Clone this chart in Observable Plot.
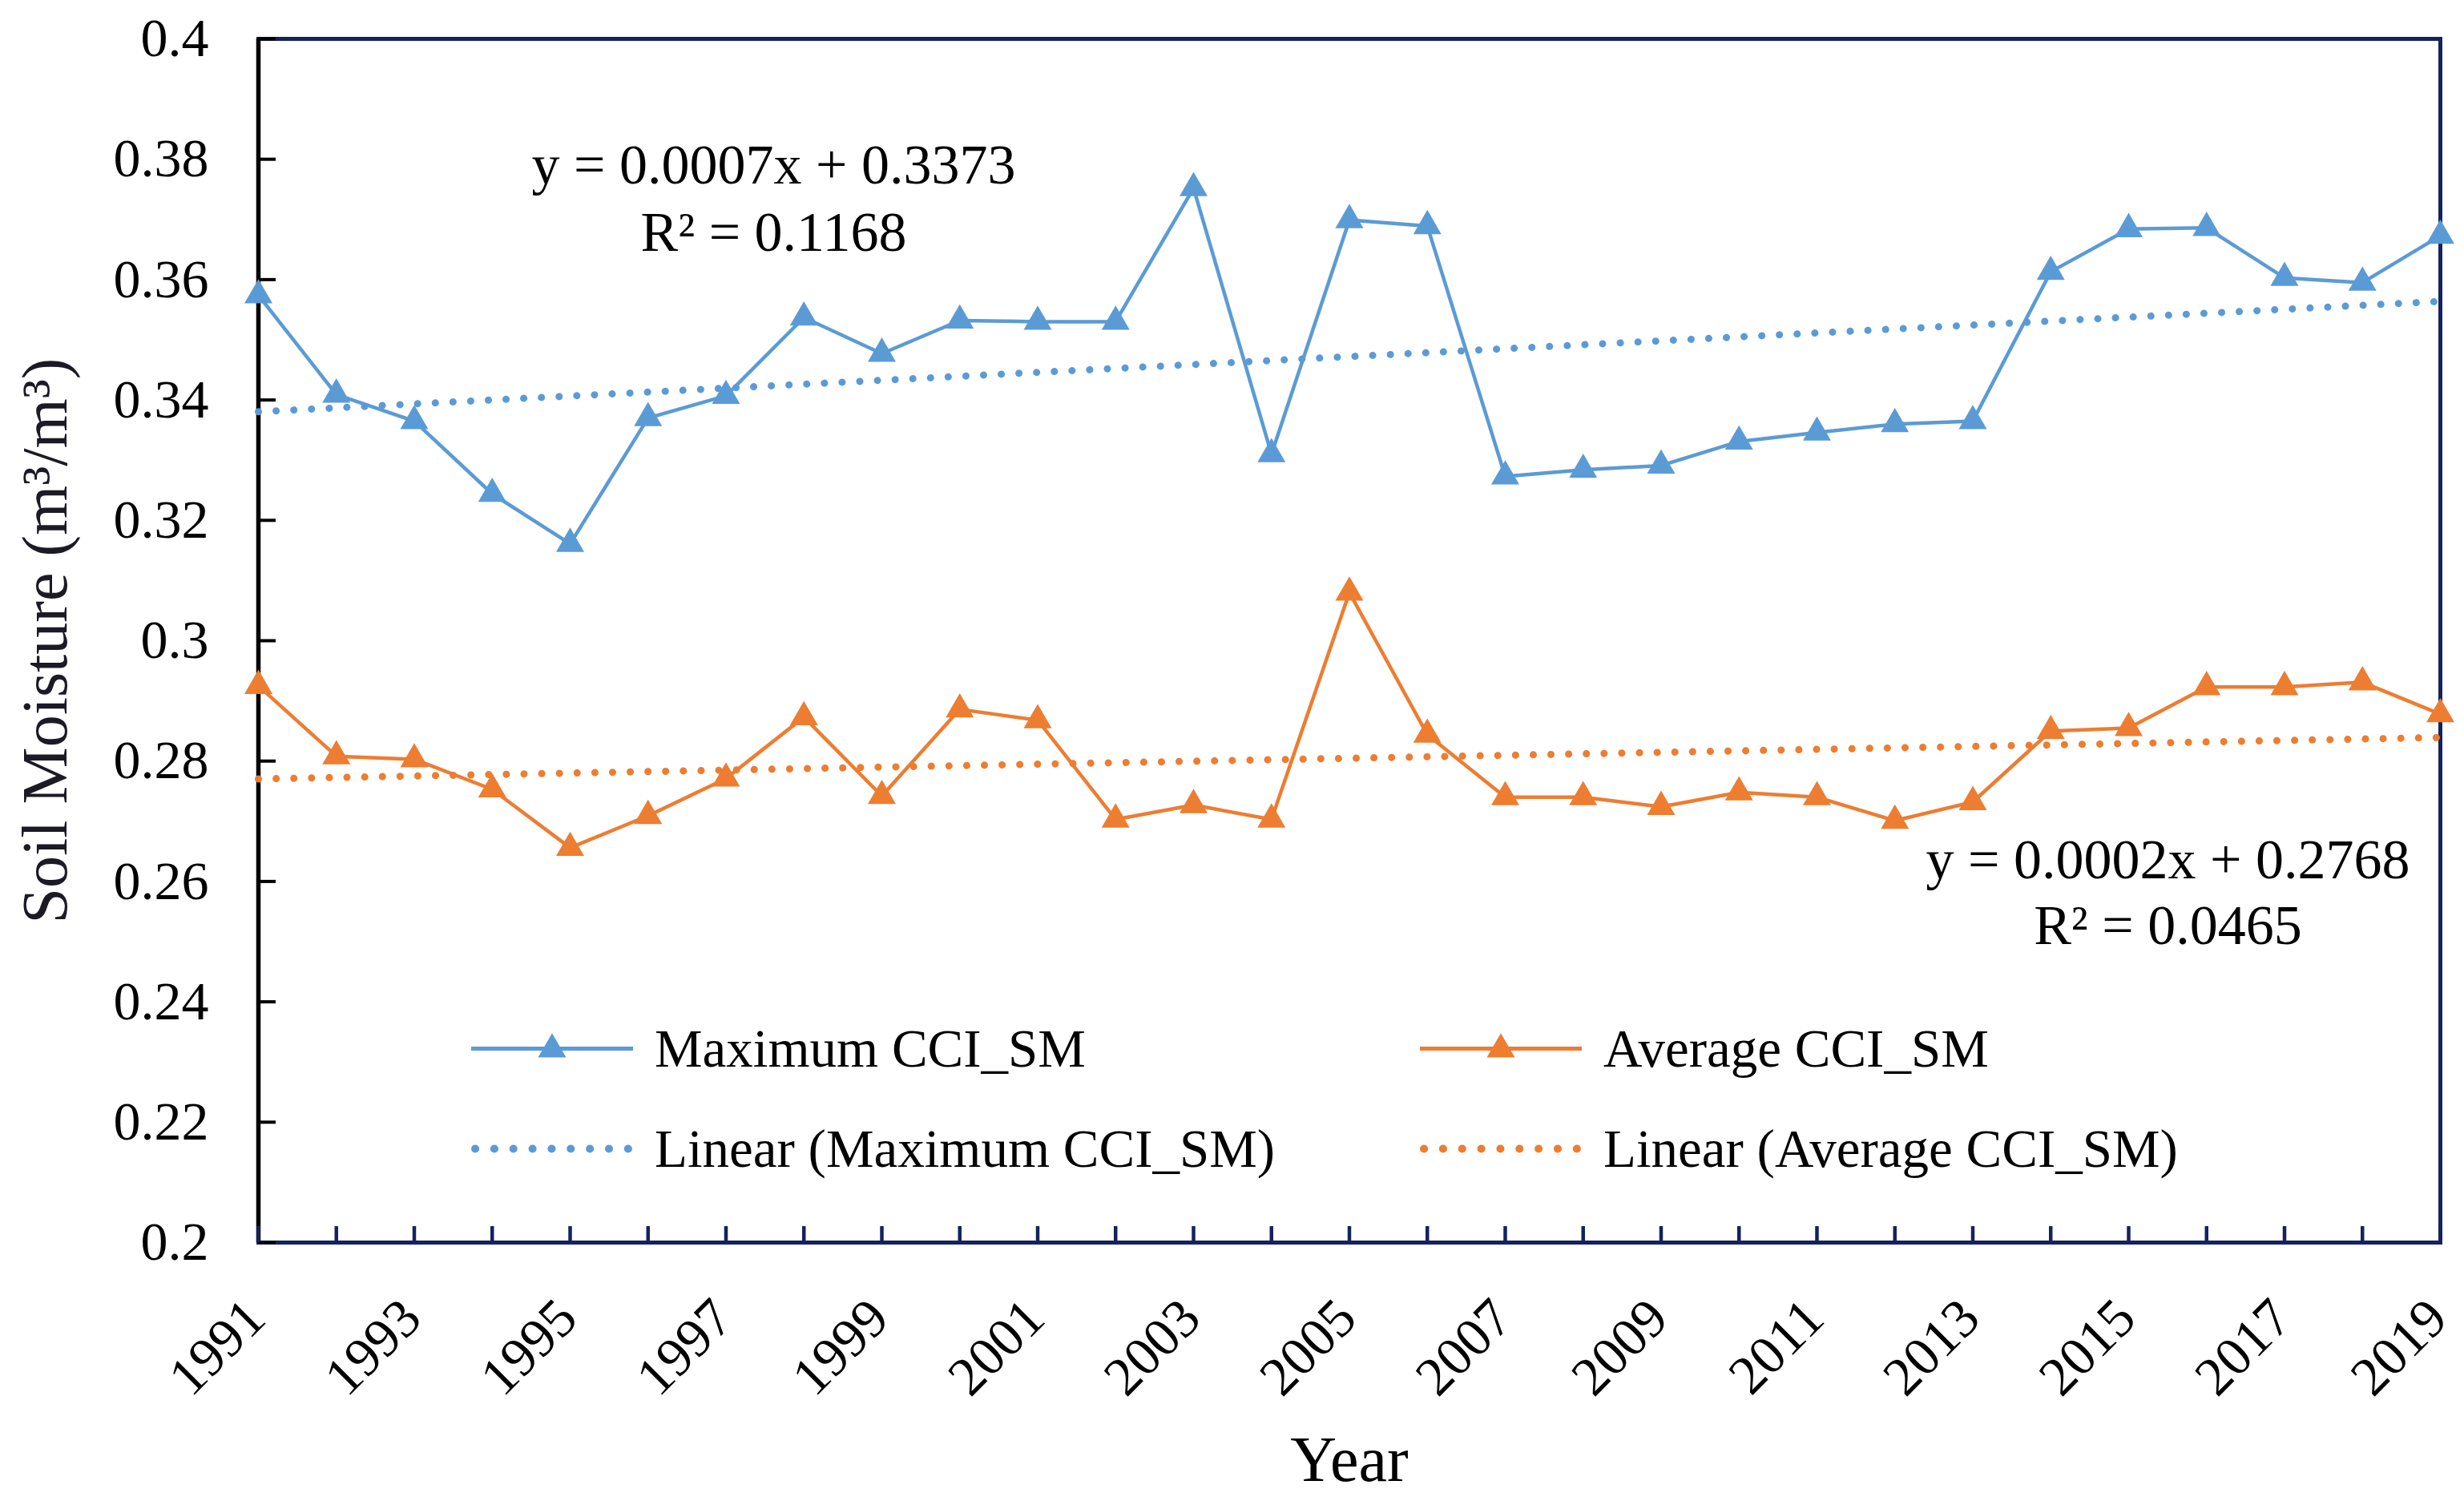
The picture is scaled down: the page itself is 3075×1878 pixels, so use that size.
<!DOCTYPE html>
<html>
<head>
<meta charset="utf-8">
<script src="https://cdn.jsdelivr.net/npm/d3@7"></script>
<script src="https://cdn.jsdelivr.net/npm/@observablehq/plot@0.6"></script>
<style>
  html, body { margin: 0; padding: 0; background: #fff; }
  #chart { position: relative; width: 3075px; height: 1878px; font-family: "Liberation Serif", "Times New Roman", serif; }
  .leg { position: absolute; display: flex; align-items: center; height: 67px; font-size: 67px; line-height: 67px; color: #000; white-space: nowrap; }
  .leg svg { display: block; flex: none; }
</style>
</head>
<body>
<div id="chart"></div>
<script>
// ---------------- data ----------------
const years = [1991, 1992, 1993, 1994, 1995, 1996, 1997, 1998, 1999, 2000,
               2001, 2002, 2003, 2004, 2005, 2006, 2007, 2008, 2009, 2010,
               2011, 2012, 2013, 2014, 2015, 2016, 2017, 2018, 2019];
const maximumSM = [0.3574, 0.3409, 0.3365, 0.3244, 0.3161, 0.3370, 0.3407, 0.3537, 0.3477, 0.3532,
                   0.3530, 0.3530, 0.3752, 0.3310, 0.3699, 0.3689, 0.3273, 0.3284, 0.3291, 0.3331,
                   0.3346, 0.3360, 0.3365, 0.3613, 0.3684, 0.3686, 0.3603, 0.3595, 0.3673];
const averageSM = [0.2925, 0.2808, 0.2803, 0.2753, 0.2656, 0.2709, 0.2771, 0.2873, 0.2742, 0.2886,
                   0.2868, 0.2703, 0.2727, 0.2703, 0.3080, 0.2844, 0.2740, 0.2740, 0.2724, 0.2748,
                   0.2740, 0.2701, 0.2732, 0.2850, 0.2855, 0.2923, 0.2923, 0.2931, 0.2878];
const yTicks = [0.2, 0.22, 0.24, 0.26, 0.28, 0.3, 0.32, 0.34, 0.36, 0.38, 0.4];
const xTickLabels = [1991, 1993, 1995, 1997, 1999, 2001, 2003, 2005, 2007, 2009, 2011, 2013, 2015, 2017, 2019];
const seriesNames = ["Maximum CCI_SM", "Average CCI_SM", "Linear (Maximum CCI_SM)", "Linear (Average CCI_SM)"];
const eqMax = ["y = 0.0007x + 0.3373", "R\u00B2 = 0.1168"];
const eqAvg = ["y = 0.0002x + 0.2768", "R\u00B2 = 0.0465"];
const xTitle = "Year";
const yTitle = "Soil Moisture (m\u00B3/m\u00B3)";

// ---------------- styling ----------------
const BLUE = "#5B9BD5", ORANGE = "#ED7D31", NAVY = "#15225e";
const W = 3075, H = 1878, mL = 322, mR = 30, mT = 48, mB = 328;
const plotW = W - mL - mR, plotH = H - mT - mB;
const FONT = '"Liberation Serif", "Times New Roman", serif';

const rows = years.map((yr, i) => ({year: yr, max: maximumSM[i], avg: averageSM[i]}));

const dotted = {ci: 0, strokeWidth: 9, strokeDasharray: "0.1 22", strokeLinecap: "round"};

const chart = Plot.plot({
  width: W, height: H,
  marginLeft: mL, marginRight: mR, marginTop: mT, marginBottom: mB,
  style: {fontFamily: FONT, background: "#fff", color: "#000"},
  x: {domain: [years[0], years[years.length - 1]], label: null},
  y: {domain: [yTicks[0], yTicks[yTicks.length - 1]], label: null},
  marks: [
    Plot.frame({stroke: NAVY, strokeWidth: 5}),
    Plot.ruleX([years[0]], {x: d => d, stroke: "#000", strokeWidth: 5.5}),
    Plot.ruleY(yTicks, {y: d => d, stroke: "#000", strokeWidth: 4, insetRight: plotW - 22}),
    Plot.ruleX(years, {x: d => d, stroke: NAVY, strokeWidth: 4.5, insetTop: plotH - 20}),
    Plot.axisY({ticks: yTicks, tickSize: 0, tickPadding: 62, fontSize: 68, tickFormat: d => d3.format(".2~f")(d), label: null}),
    Plot.axisX({ticks: xTickLabels, tickSize: 0, tickRotate: -45, tickPadding: 64, dx: -22, fontSize: 68,
                tickFormat: d => String(d), label: null, textAnchor: "end", lineAnchor: "top"}),
    Plot.line(rows, {x: "year", y: "max", stroke: BLUE, strokeWidth: 4.5}),
    Plot.line(rows, {x: "year", y: "avg", stroke: ORANGE, strokeWidth: 4.5}),
    Plot.linearRegressionY(rows, {x: "year", y: "max", stroke: BLUE, ...dotted}),
    Plot.linearRegressionY(rows, {x: "year", y: "avg", stroke: ORANGE, ...dotted}),
    Plot.dot(rows, {x: "year", y: "max", symbol: "triangle", r: 13, fill: BLUE, stroke: "none"}),
    Plot.dot(rows, {x: "year", y: "avg", symbol: "triangle", r: 13, fill: ORANGE, stroke: "none"}),
    Plot.text([eqMax[0]], {text: d => d, frameAnchor: "top-left", dx: 643, dy: 180, textAnchor: "middle", lineAnchor: "bottom", fontSize: 70, fill: "#000"}),
    Plot.text([eqMax[1]], {text: d => d, frameAnchor: "top-left", dx: 643, dy: 264, textAnchor: "middle", lineAnchor: "bottom", fontSize: 70, fill: "#000"}),
    Plot.text([eqAvg[0]], {text: d => d, frameAnchor: "top-left", dx: 2383, dy: 1047, textAnchor: "middle", lineAnchor: "bottom", fontSize: 70, fill: "#000"}),
    Plot.text([eqAvg[1]], {text: d => d, frameAnchor: "top-left", dx: 2383, dy: 1129, textAnchor: "middle", lineAnchor: "bottom", fontSize: 70, fill: "#000"}),
    Plot.text([xTitle], {text: d => d, frameAnchor: "bottom", dy: 297, textAnchor: "middle", lineAnchor: "bottom", fontSize: 80, fill: "#000"}),
    Plot.text([yTitle], {text: d => d, frameAnchor: "left", dx: -240, rotate: -90, textAnchor: "middle", lineAnchor: "bottom", fontSize: 80, fill: "#1c1a24"})
  ]
});

const root = document.getElementById("chart");
root.appendChild(chart);

// ---------------- legend (inside the plot area) ----------------
const legendItems = [
  {name: seriesNames[0], color: BLUE, kind: "line", left: 588, cy: 1308},
  {name: seriesNames[1], color: ORANGE, kind: "line", left: 1772, cy: 1308},
  {name: seriesNames[2], color: BLUE, kind: "dots", left: 588, cy: 1433},
  {name: seriesNames[3], color: ORANGE, kind: "dots", left: 1772, cy: 1433}
];
const SW = 202;
for (const it of legendItems) {
  const div = d3.select(root).append("div").attr("class", "leg")
    .style("left", it.left + "px").style("top", (it.cy - 33.5) + "px");
  const svg = div.append("svg").attr("width", SW).attr("height", 67);
  if (it.kind === "line") {
    svg.append("line").attr("x1", 0).attr("x2", SW).attr("y1", 33.5).attr("y2", 33.5)
      .attr("stroke", it.color).attr("stroke-width", 5);
    svg.append("path").attr("d", d3.symbol(d3.symbolTriangle, 13 * 13 * Math.PI)())
      .attr("transform", `translate(${SW / 2},34.5)`).attr("fill", it.color);
  } else {
    svg.append("line").attr("x1", 5).attr("x2", SW - 5).attr("y1", 33.5).attr("y2", 33.5)
      .attr("stroke", it.color).attr("stroke-width", 10)
      .attr("stroke-dasharray", "0.1 23.75").attr("stroke-linecap", "round");
  }
  div.append("span").style("margin-left", "27px").text(it.name);
}
</script>
</body>
</html>
